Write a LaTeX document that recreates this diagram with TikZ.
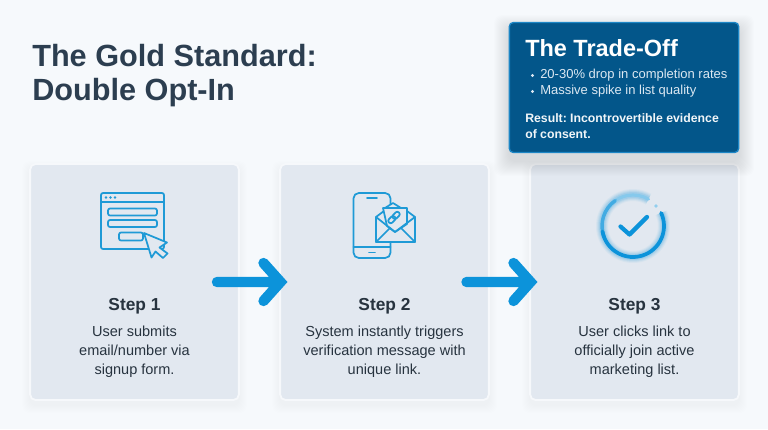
\documentclass[tikz,border=0pt]{standalone}
\usepackage{fontspec}
\setmainfont{Liberation Sans}
\definecolor{bgc}{HTML}{F6F9FC}
\definecolor{cardc}{HTML}{E2E8F0}
\definecolor{cardedge}{HTML}{F6F8FB}
\definecolor{titlec}{HTML}{2C3E50}
\definecolor{bodyc}{HTML}{27333F}
\definecolor{bluec}{HTML}{0C93DA}
\definecolor{iconc}{HTML}{1F9AD6}
\definecolor{boxc}{HTML}{03568A}
\definecolor{boxedge}{HTML}{1C86C6}
\definecolor{boxtext}{HTML}{DCE8F2}
\newcommand{\softshadow}[7]{%
  \foreach \i in {1,...,#6}{
    \fill[black,opacity=#5,rounded corners=6]
      (#1-\i,#2-\i+#7) rectangle (#3+\i,#4+\i+#7);
  }}
\tikzset{
  x=0.75pt,y=-0.75pt,
  card/.style={draw=cardedge,line width=1.4pt,fill=cardc,rounded corners=4pt,
    minimum width=156.5pt,minimum height=177pt,inner sep=0pt},
  tradebox/.style={draw=boxedge,line width=1pt,fill=boxc,rounded corners=3pt,
    minimum width=172pt,minimum height=97.5pt,inner sep=0pt},
  head/.style={font=\bfseries\fontsize{13}{15}\selectfont,text=bodyc,anchor=center},
  body/.style={font=\fontsize{10.9}{14.2}\selectfont,text=bodyc,align=center,anchor=center},
  flow/.style={draw=bluec,line width=7.8pt,line cap=round,line join=miter},
  ico/.style={draw=iconc,line width=1.3pt,line join=round,line cap=round},
  titletext/.style={font=\bfseries\fontsize{23}{25.5}\selectfont,text=titlec,align=left,anchor=west,inner sep=0pt},
}
\begin{document}
\frenchspacing
\begin{tikzpicture}
\useasboundingbox (0,0) rectangle (768,429);
\fill[bgc] (0,0) rectangle (768,429);
% cards
\softshadow{30}{164}{239}{400}{0.004}{8}{5}
\softshadow{280}{164}{489}{400}{0.004}{8}{5}
\softshadow{530}{164}{739}{400}{0.004}{8}{5}
\node[card] (card1) at (134.5,282) {};
\node[card] (card2) at (384.5,282) {};
\node[card] (card3) at (634.5,282) {};
% title
\node[titletext] (title) at (32,75.5) {The Gold Standard:\\Double Opt-In};
% trade-off box
\softshadow{509}{22}{739}{153}{0.006}{15}{8}
\node[tradebox] (trade) at (624,87.5) {};
\node[anchor=west,inner sep=0pt,text=white,font=\bfseries\fontsize{17.6}{20}\selectfont] (tradetitle) at (525,48) {The Trade-Off};
\node[anchor=west,text=boxtext,font=\fontsize{9.75}{12}\selectfont,inner sep=0pt] (b1) at (540,75.5) {20-30\% drop in completion rates};
\node[anchor=west,text=boxtext,font=\fontsize{9.75}{12}\selectfont,inner sep=0pt] (b2) at (540,91.5) {Massive spike in list quality};
\node[circle,fill=boxtext,inner sep=0pt,minimum size=2.4pt] (d1) at (532.5,75.5) {};
\node[circle,fill=boxtext,inner sep=0pt,minimum size=2.4pt] (d2) at (532.5,91.5) {};
\node[anchor=west,align=left,inner sep=0pt,text=white!94!boxc,font=\bfseries\fontsize{9.2}{11.8}\selectfont] (result) at (525,126) {Result: Incontrovertible evidence\\of consent.};
% step texts
\node[head] (h1) at (134.5,306.5) {Step 1};
\node[head] (h2) at (384.5,306.5) {Step 2};
\node[head] (h3) at (634.5,306.5) {Step 3};
\node[body] (t1) at (134.5,352) {User submits\\email/number via\\signup form.};
\node[body] (t2) at (384.5,352) {System instantly triggers\\verification message with\\unique link.};
\node[body] (t3) at (634.5,352) {User clicks link to\\officially join active\\marketing list.};
% arrows
\coordinate (a1s) at (217,282);
\coordinate (a1e) at (280.5,282);
\coordinate (a2s) at (466.5,282);
\coordinate (a2e) at (530.5,282);
\draw[flow] (a1s) -- (a1e) (a1e) ++(-17,-19) -- (a1e) -- ++(-17,19);
\draw[flow] (a2s) -- (a2e) (a2e) ++(-17,-19) -- (a2e) -- ++(-17,19);
% icon 1
\draw[ico,rounded corners=1.5pt] (101,193) rectangle (164,249);
\draw[ico] (101,202) -- (164,202);
\foreach \x in {106,110.5,115}{\fill[iconc] (\x,197.5) circle (1.1pt);}
\draw[ico,rounded corners=1.5pt] (108,208.5) rectangle (157,215.5);
\draw[ico,rounded corners=1.5pt] (108,220) rectangle (157,227);
\draw[ico,rounded corners=1.5pt] (119,232.5) rectangle (143,240.5);
\draw[ico,fill=cardc] (144,233) -- (167,242.5) -- (159.5,247.5) -- (167.5,253.5) -- (163,258) -- (155.5,251.5) -- (151.5,257.5) -- cycle;
% icon 2
\draw[ico,rounded corners=4pt] (353.5,193) rectangle (390.5,258);
\draw[ico] (353.5,247) -- (390.5,247);
\draw[ico] (367,198) -- (377,198);
\draw[ico] (369,252.5) -- (375,252.5);
\draw[ico,fill=cardc] (376,217) -- (384,211) -- (407,211) -- (415,217) -- (415,242) -- (376,242) -- cycle;
\draw[ico,fill=cardc] (385,208) -- (393,203) -- (401,208) -- cycle;
\draw[ico,fill=cardc] (383,208) -- (407,208) -- (407,224) -- (395,232) -- (387,226) -- cycle;
\draw[ico] (376,217) -- (395,232) -- (415,217);
\draw[ico] (376,242) -- (390,228);
\draw[ico] (415,242) -- (401,228);
\begin{scope}[shift={(394,217.5)},rotate=45]
  \draw[ico,rounded corners=1.6pt] (-7,-2.4) rectangle (1,2.4);
  \draw[ico,rounded corners=1.6pt] (-1,-2.4) rectangle (7,2.4);
\end{scope}
% icon 3
\coordinate (chk) at (633,226);
\foreach \w/\o in {9/0.05,7.5/0.07,6/0.09,4.5/0.12}{
  \draw[bluec,line width=\w pt,opacity=\o] (chk) ++(-25:31) arc[start angle=-25,end angle=300,radius=31];
}
\draw[bluec!50!white,line width=2.4pt,line cap=round] (chk) ++(200:31) arc[start angle=200,end angle=300,radius=31];
\draw[bluec!78!white,line width=2.6pt,line cap=round] (chk) ++(160:31) arc[start angle=160,end angle=235,radius=31];
\draw[bluec,line width=2.8pt,line cap=round] (chk) ++(-25:31) arc[start angle=-25,end angle=170,radius=31];
\fill[bluec!45!white] (656,206) circle (1.4pt);
\draw[bluec,line width=3.2pt,line cap=round,line join=round] (620.5,226.5) -- (629.5,234.5) -- (647,217);
\end{tikzpicture}
\end{document}
